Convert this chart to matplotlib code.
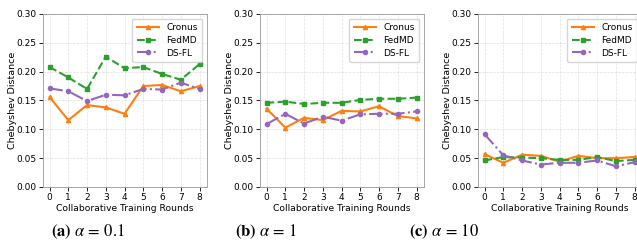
import matplotlib.pyplot as plt
import numpy as np

# Chebyshev distance per collaborative round
rounds = np.arange(9)

cronus_01 = [0.156, 0.116, 0.142, 0.138, 0.127, 0.175, 0.177, 0.166, 0.175]
fedmd_01 = [0.208, 0.190, 0.170, 0.226, 0.206, 0.208, 0.196, 0.186, 0.213]
dsfl_01 = [0.171, 0.166, 0.149, 0.160, 0.159, 0.170, 0.169, 0.181, 0.170]

cronus_1 = [0.136, 0.103, 0.120, 0.116, 0.132, 0.131, 0.140, 0.123, 0.119]
fedmd_1 = [0.146, 0.148, 0.144, 0.146, 0.146, 0.151, 0.153, 0.153, 0.155]
dsfl_1 = [0.109, 0.127, 0.110, 0.122, 0.115, 0.126, 0.127, 0.127, 0.131]

cronus_10 = [0.057, 0.042, 0.056, 0.054, 0.044, 0.054, 0.050, 0.050, 0.052]
fedmd_10 = [0.046, 0.052, 0.051, 0.050, 0.047, 0.047, 0.052, 0.045, 0.047]
dsfl_10 = [0.0915, 0.055, 0.046, 0.039, 0.042, 0.042, 0.046, 0.036, 0.043]

captions = [r"$\mathbf{(a)}\ \alpha\,=\,0.1$", r"$\mathbf{(b)}\ \alpha\,=\,1$", r"$\mathbf{(c)}\ \alpha\,=\,10$"]
caption_x = [88, 266, 444]

panels = [(cronus_01, fedmd_01, dsfl_01),
          (cronus_1, fedmd_1, dsfl_1),
          (cronus_10, fedmd_10, dsfl_10)]

plt.rcParams['mathtext.fontset'] = 'stix'

W, H = 637, 252
fig = plt.figure(figsize=(W / 100, H / 100), dpi=100)

lefts = [43, 260, 478]
for i, (cr, fm, ds) in enumerate(panels):
    ax = fig.add_axes([lefts[i] / W, 1 - 187 / H, 164 / W, 173 / H])
    ax.plot(rounds, cr, color='#ff7f0e', linestyle='-', marker='^', markersize=3, linewidth=1.5, label='Cronus')
    ax.plot(rounds, fm, color='#2ca02c', linestyle='--', marker='s', markersize=3, linewidth=1.5, label='FedMD')
    ax.plot(rounds, ds, color='#9467bd', linestyle='-.', marker='o', markersize=3, linewidth=1.5, label='DS-FL')
    ax.set_ylim(0, 0.30)
    ax.set_xlim(-0.35, 8.4)
    ax.set_xticks(rounds)
    ax.set_yticks(np.arange(0, 0.31, 0.05))
    ax.yaxis.set_major_formatter(plt.FormatStrFormatter('%.2f'))
    ax.tick_params(labelsize=6.5, length=3, width=0.6, pad=1.5)
    ax.grid(True, linestyle='--', linewidth=0.5, alpha=0.4)
    for sp in ax.spines.values():
        sp.set_color('#999999')
        sp.set_linewidth(0.6)
    ax.set_xlabel('Collaborative Training Rounds', fontsize=6.6, labelpad=1)
    ax.set_ylabel('Chebyshev Distance', fontsize=6.8)
    ax.yaxis.set_label_coords(-0.159, 0.5)
    ax.legend(loc='upper right', fontsize=6.5, handlelength=2.5, borderpad=0.5,
              labelspacing=0.42, framealpha=0.8)

for x, cap in zip(caption_x, captions):
    fig.text(x / W, 1 - 232 / H, cap, ha='center', va='center', fontsize=12)

fig.savefig('out.png', dpi=100)
